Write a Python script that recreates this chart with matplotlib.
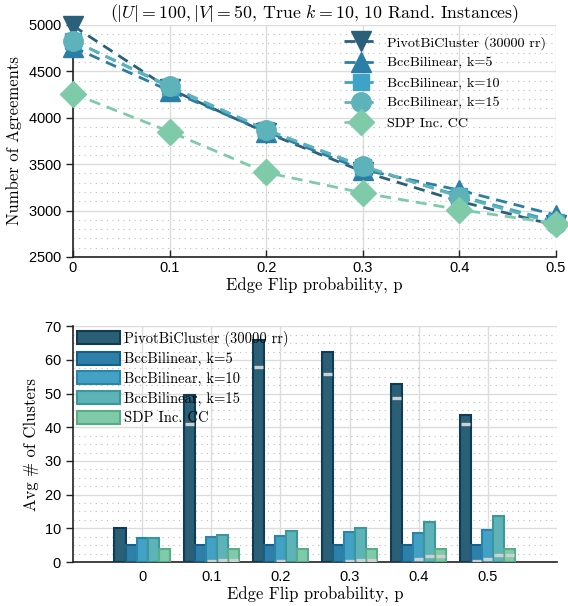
import numpy as np
import matplotlib
matplotlib.use('Agg')
import matplotlib.pyplot as plt
from matplotlib.ticker import MultipleLocator

plt.rcParams['mathtext.fontset'] = 'cm'
plt.rcParams['axes.formatter.use_mathtext'] = True

SERIF = ['cmr10', 'DejaVu Serif']
SANS = 'Liberation Sans'

# edge flip probabilities
p_vals = [0, 0.1, 0.2, 0.3, 0.4, 0.5]
p_labels = ['0', '0.1', '0.2', '0.3', '0.4', '0.5']

method_names = ['PivotBiCluster (30000 rr)', 'BccBilinear, k=5', 'BccBilinear, k=10',
                'BccBilinear, k=15', 'SDP Inc. CC']

# number of agreements
agree_pivot = [4990, 4310, 3840, 3420, 3100, 2840]
agree_k5 = [4760, 4290, 3850, 3440, 3220, 2950]
agree_k10 = [4830, 4330, 3870, 3470, 3160, 2880]
agree_k15 = [4830, 4340, 3870, 3480, 3150, 2860]
agree_sdp = [4260, 3850, 3410, 3190, 3010, 2860]

# avg number of clusters
clust_pivot = [10, 49.6, 65.9, 62.3, 52.9, 43.7]
clust_k5 = [5.1, 5.0, 5.0, 5.0, 5.0, 5.0]
clust_k10 = [7.05, 7.35, 7.6, 9.0, 8.6, 9.5]
clust_k15 = [7.05, 7.9, 9.1, 10.0, 11.9, 13.8]
clust_sdp = [4.0, 4.0, 4.0, 4.0, 4.0, 4.0]

# grey marks inside bars
mark_pivot = [np.nan, 41.0, 57.8, 55.7, 48.6, 41.0]
mark_k5 = [np.nan, np.nan, np.nan, np.nan, np.nan, 0.2]
mark_k10 = [np.nan, 0.25, 0.25, 0.35, 1.0, 1.0]
mark_k15 = [np.nan, 0.6, np.nan, 0.45, 1.8, 2.0]
mark_sdp = [np.nan, 0.6, np.nan, 0.45, 1.8, 2.0]

line_colors = ['#2a6079', '#2b7fa6', '#3ea3c7', '#5db3b9', '#7ecaa9']
bar_faces = ['#2b5f75', '#2e80a8', '#42a1c5', '#5db3b8', '#7ecaa9']
bar_edges = ['#0e3c55', '#15608a', '#2a85aa', '#3c979b', '#5aab88']
markers = ['v', '^', 's', 'o', 'D']
msizes = [15, 15, 12, 14, 13]

fig = plt.figure(figsize=(5.68, 6.06), dpi=100)
ax1 = fig.add_axes([0.1285, 0.576, 0.850, 0.383])
ax2 = fig.add_axes([0.1285, 0.0726, 0.852, 0.389])


def style_axes(ax):
    for side in ['top', 'right']:
        ax.spines[side].set_visible(False)
    for side in ['left', 'bottom']:
        ax.spines[side].set_color('#222222')
        ax.spines[side].set_linewidth(1.2)
    ax.grid(which='major', color='#dcdcdc', linewidth=1.0, linestyle='-')
    ax.grid(which='minor', axis='y', color='#bdbdbd', linewidth=0.8, linestyle=(0, (1, 4)))
    ax.set_axisbelow(True)
    ax.tick_params(axis='y', which='major', direction='out', length=5, width=1, color='#222222')
    ax.tick_params(axis='x', which='major', direction='in', length=5, width=1, color='#222222')
    ax.tick_params(which='minor', length=0)
    ax.tick_params(labelsize=10.5, pad=3)
    for lab in ax.get_xticklabels() + ax.get_yticklabels():
        lab.set_fontfamily(SANS)


# top: agreements
agreements = [agree_pivot, agree_k5, agree_k10, agree_k15, agree_sdp]
for i, vals in enumerate(agreements):
    ax1.plot(p_vals, vals, linestyle=(0, (4, 2.5)), linewidth=2.0, color=line_colors[i],
             marker=markers[i], markersize=msizes[i], label=method_names[i],
             clip_on=False, zorder=3 + i)
ax1.set_xlim(0, 0.5)
ax1.set_ylim(2500, 5000)
ax1.set_xticks(p_vals)
ax1.set_xticklabels(p_labels)
ax1.set_yticks([2500, 3000, 3500, 4000, 4500, 5000])
ax1.yaxis.set_minor_locator(MultipleLocator(100))
style_axes(ax1)
ax1.set_xlabel('Edge Flip probability, p', fontfamily=SERIF, fontsize=12, labelpad=2)
ax1.set_ylabel('Number of Agreements', fontfamily=SERIF, fontsize=12, labelpad=4)
ax1.set_title(r'$(|U| = 100, |V| = 50$, True $k = 10$, 10 Rand. Instances$)$',
              fontfamily=SERIF, fontsize=12.8, pad=5)
leg1 = ax1.legend(loc='upper right', bbox_to_anchor=(1.0, 0.995), frameon=False,
                  prop={'family': SERIF, 'size': 10.2}, handlelength=2.4,
                  handletextpad=0.6, labelspacing=0.5, borderpad=0.2)

# bottom: clusters
clusters = [clust_pivot, clust_k5, clust_k10, clust_k15, clust_sdp]
marks = [mark_pivot, mark_k5, mark_k10, mark_k15, mark_sdp]
group_x = np.arange(1, len(p_vals) + 1)
bar_w = 0.16
for i, vals in enumerate(clusters):
    xs = group_x + (i - 2) * bar_w
    ax2.bar(xs, vals, width=bar_w, color=bar_faces[i], edgecolor=bar_edges[i],
            linewidth=1.5, label=method_names[i], zorder=3)
    ax2.hlines(marks[i], xs - bar_w * 0.4, xs + bar_w * 0.4, color='#cfcfcf',
               linewidth=2.4, zorder=4)
ax2.set_xlim(0, 7)
ax2.set_ylim(0, 70)
ax2.set_xticks(group_x)
ax2.set_xticklabels(p_labels)
ax2.yaxis.set_minor_locator(MultipleLocator(2.5))
style_axes(ax2)
ax2.tick_params(axis='x', which='major', length=0, pad=6)
ax2.set_xlabel('Edge Flip probability, p', fontfamily=SERIF, fontsize=12, labelpad=2)
ax2.set_ylabel('Avg # of Clusters', fontfamily=SERIF, fontsize=12, labelpad=4)
leg2 = ax2.legend(loc='upper left', frameon=False, prop={'family': SERIF, 'size': 10.5},
                  handlelength=2.9, handleheight=1.0, handletextpad=0.3,
                  labelspacing=0.35, borderaxespad=0.2, borderpad=0.1)

fig.savefig('out.png', dpi=100)
